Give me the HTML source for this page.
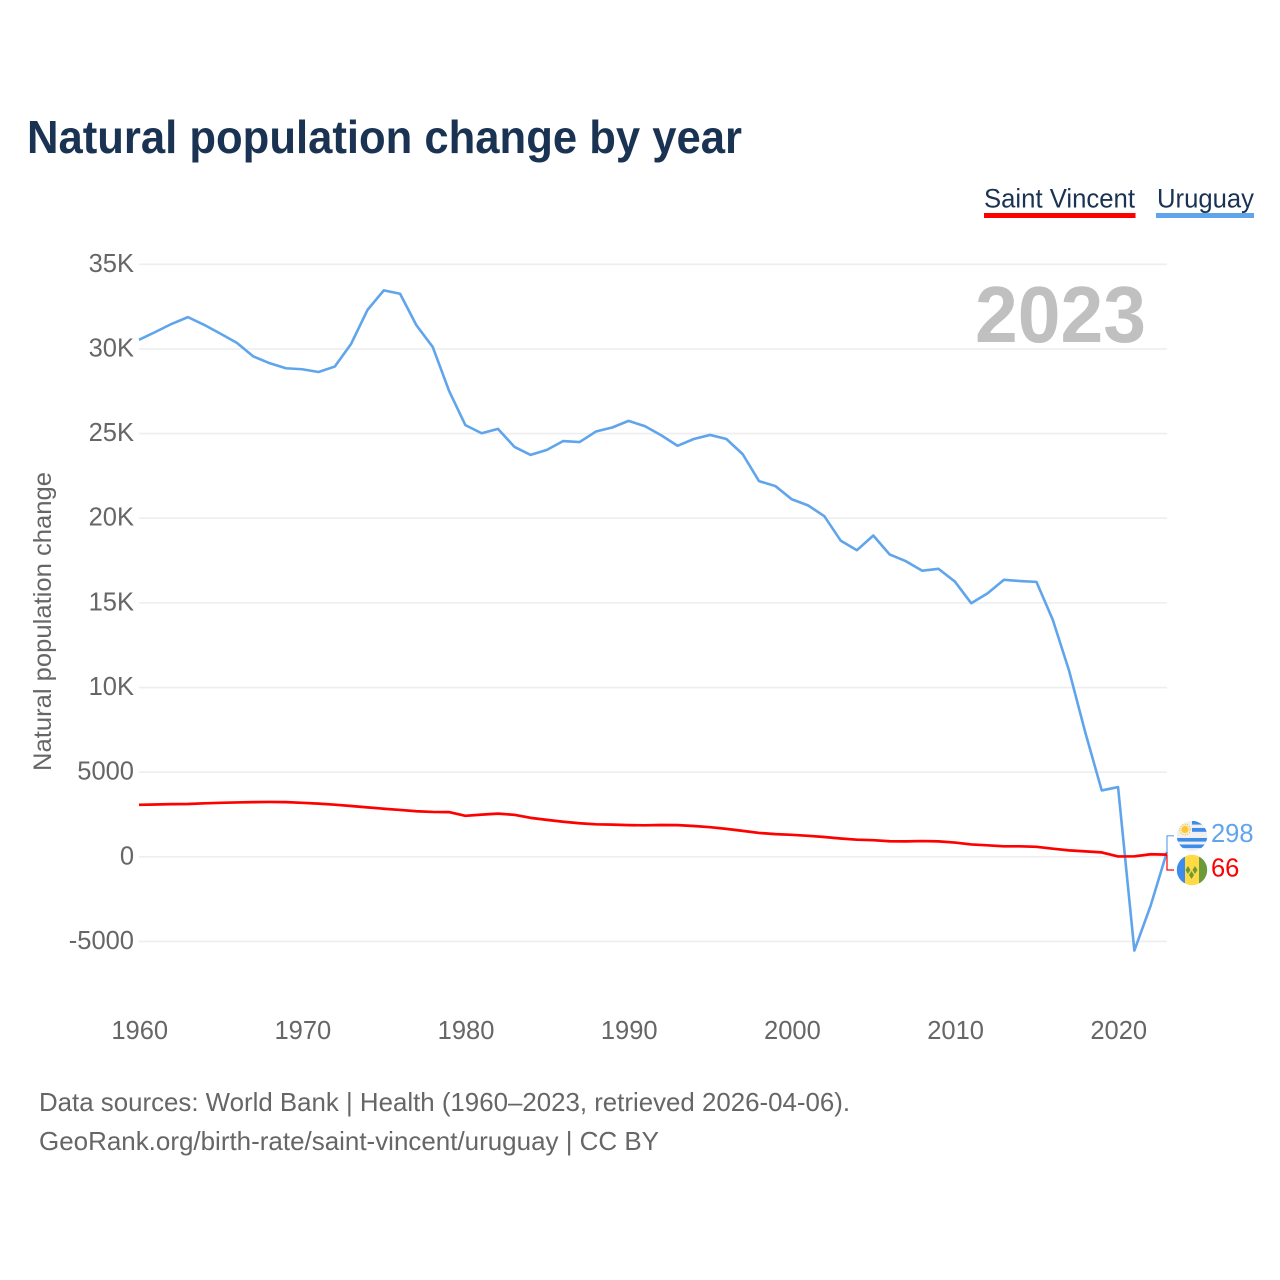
<!DOCTYPE html>
<html lang="en">
<head>
<meta charset="utf-8">
<title>Natural population change by year</title>
<style>
html,body{margin:0;padding:0;background:#fff;width:1280px;height:1280px;overflow:hidden}
svg{display:block}
text{font-family:"Liberation Sans",sans-serif}
</style>
</head>
<body>
<svg id="chart" width="1280" height="1280" viewBox="0 0 1280 1280" xmlns="http://www.w3.org/2000/svg">
  <defs>
    <clipPath id="clip-uy"><circle cx="1192" cy="836" r="15.2"/></clipPath>
    <clipPath id="clip-vc"><circle cx="1192" cy="870" r="15.2"/></clipPath>
  </defs>
  <rect x="0" y="0" width="1280" height="1280" fill="#fff"/>
  <text x="27" y="153" font-size="46" font-weight="700" fill="#1a3353" textLength="715" lengthAdjust="spacingAndGlyphs">Natural population change by year</text>

  <g>
    <g>
      <text x="984" y="207.5" font-size="27" fill="#1a3353" textLength="151" lengthAdjust="spacingAndGlyphs">Saint Vincent</text>
      <rect x="984" y="213" width="151.5" height="5" fill="#ff0000"/>
    </g>
    <g>
      <text x="1157" y="207.5" font-size="27" fill="#1a3353" textLength="97" lengthAdjust="spacingAndGlyphs">Uruguay</text>
      <rect x="1156" y="213" width="98" height="5" fill="#60a5ec"/>
    </g>
  </g>

  <g id="grid"></g>
  <g id="y-ticks"></g>
  <g id="x-ticks"></g>
  <text transform="translate(51 771) rotate(-90)" x="0" y="0" font-size="25" fill="#666" textLength="299" lengthAdjust="spacingAndGlyphs">Natural population change</text>
  <text x="975" y="342" font-size="80" font-weight="700" fill="#c0c0c0" textLength="171" lengthAdjust="spacingAndGlyphs">2023</text>
  <g id="series"></g>

  <g clip-path="url(#clip-uy)">
    <rect x="1176" y="820" width="32" height="32" fill="#f0f0f0"/>
    <rect x="1192" y="821" width="16" height="3.6" fill="#3d8bea"/>
    <rect x="1192" y="828" width="16" height="3.8" fill="#3d8bea"/>
    <rect x="1176" y="838" width="32" height="3.6" fill="#3d8bea"/>
    <rect x="1176" y="844.500" width="32" height="3.6" fill="#3d8bea"/>
    <circle cx="1185" cy="829.5" r="3.6" fill="#ffc52e"/>
    <circle cx="1185" cy="829.5" r="5.2" fill="none" stroke="#ffc52e" stroke-width="1.2" stroke-dasharray="1.2 1.2"/>
  </g>
  <g clip-path="url(#clip-vc)">
    <rect x="1176" y="854" width="9" height="32" fill="#3d8bea"/>
    <rect x="1185" y="854" width="14" height="32" fill="#ffda44"/>
    <rect x="1199" y="854" width="9" height="32" fill="#6a9a3a"/>
    <polygon points="1188,866 1190.5,870 1188,874 1185.5,870" fill="#6a9a3a"/>
    <polygon points="1195,866 1197.500,870 1195,874 1192.500,870" fill="#6a9a3a"/>
    <polygon points="1191.500,871 1194,875 1191.500,879 1189,875" fill="#6a9a3a"/>
  </g>
  <g id="end-labels"></g>
</svg>
<script>
var firstYear = 1960;
var lastYear = 2023;
var yearTicks = [1960, 1970, 1980, 1990, 2000, 2010, 2020];
var valueTicks = [-5000, 0, 5000, 10000, 15000, 20000, 25000, 30000, 35000];
var valueTickLabels = ['-5000', '0', '5000', '10K', '15K', '20K', '25K', '30K', '35K'];
var uruguayValues = [30540, 31000, 31480, 31880, 31420, 30900, 30360, 29560, 29160, 28860, 28800, 28640, 28960, 30300, 32300, 33460, 33260, 31400, 30120, 27530, 25500, 25020, 25280, 24220, 23740, 24040, 24560, 24500, 25120, 25360, 25750, 25440, 24900, 24280, 24680, 24920, 24680, 23780, 22190, 21900, 21120, 20760, 20120, 18680, 18110, 18980, 17860, 17460, 16900, 17010, 16260, 14980, 15560, 16360, 16290, 16240, 14000, 10990, 7320, 3920, 4120, -5540, -2880, 298];
var saintVincentValues = [3070, 3090, 3110, 3120, 3160, 3190, 3210, 3230, 3240, 3230, 3190, 3140, 3080, 3000, 2920, 2840, 2770, 2690, 2650, 2640, 2420, 2490, 2550, 2480, 2300, 2180, 2070, 1980, 1920, 1900, 1870, 1860, 1880, 1870, 1820, 1750, 1650, 1530, 1410, 1340, 1300, 1240, 1170, 1080, 1010, 980, 920, 910, 930, 910, 840, 730, 680, 620, 620, 590, 480, 380, 320, 260, 20, 30, 150, 130];
var endLabelValues = ['298', '66'];

var NS = 'http://www.w3.org/2000/svg';
function xScale(year) { return 139 + (year - firstYear) * (1167 - 139) / (lastYear - firstYear); }
function yScale(value) { return 856.8 - value * (856.8 - 264.3) / 35000; }
function make(tag, attrs, parent, content) {
  var el = document.createElementNS(NS, tag);
  for (var k in attrs) { el.setAttribute(k, attrs[k]); }
  if (content !== undefined) { el.textContent = content; }
  parent.appendChild(el);
  return el;
}
function linePath(values) {
  return values.map(function (v, i) {
    return (i ? 'L' : 'M') + xScale(firstYear + i).toFixed(2) + ' ' + yScale(v).toFixed(2);
  }).join(' ');
}

var grid = document.getElementById('grid');
var yTicks = document.getElementById('y-ticks');
valueTicks.forEach(function (v, i) {
  var line = make('line', { x1: 139, x2: 1167, y1: yScale(v), y2: yScale(v), stroke: '#eeeeee', 'stroke-width': 1.6 }, grid);
  
  
  var label = make('text', { x: 134, y: yScale(v) + 7.5, 'text-anchor': 'end', 'font-size': 25.5, fill: '#666' }, yTicks, valueTickLabels[i]);
  
  
});

var xTicks = document.getElementById('x-ticks');
yearTicks.forEach(function (year) {
  var label = make('text', { x: xScale(year) + 0.7, y: 1039, 'text-anchor': 'middle', 'font-size': 25.5, fill: '#666' }, xTicks, String(year));
  
  
});

var series = document.getElementById('series');
var uruguayLine = make('path', { d: linePath(uruguayValues), fill: 'none', stroke: '#60a5ec', 'stroke-width': 2.6, 'stroke-linejoin': 'round' }, series);


var vincentLine = make('path', { d: linePath(saintVincentValues), fill: 'none', stroke: '#ff0000', 'stroke-width': 2.7, 'stroke-linejoin': 'round' }, series);



var endLabels = document.getElementById('end-labels');
var endX = xScale(lastYear);
var uruguayEnd = uruguayValues[uruguayValues.length - 1];
var vincentEnd = saintVincentValues[saintVincentValues.length - 1];
var uruguayLeader = make('path', { d: 'M' + endX + ' ' + yScale(uruguayEnd) + ' V835.800 H1174', fill: 'none', stroke: '#60a5ec', 'stroke-width': 1.2 }, endLabels);


var vincentLeader = make('path', { d: 'M' + endX + ' ' + yScale(vincentEnd) + ' V870 H1174', fill: 'none', stroke: '#ff0000', 'stroke-width': 1.2 }, endLabels);


var uruguayLabel = make('text', { x: 1211, y: 842, 'font-size': 25.5, fill: '#60a5ec' }, endLabels, endLabelValues[0]);


var vincentLabel = make('text', { x: 1211, y: 876.5, 'font-size': 25.5, fill: '#ff0000' }, endLabels, endLabelValues[1]);


</script>
<svg width="1280" height="1280" viewBox="0 0 1280 1280" xmlns="http://www.w3.org/2000/svg" style="position:absolute;left:0;top:0;pointer-events:none">
  <text x="39" y="1111" font-size="26" fill="#666" textLength="811" lengthAdjust="spacingAndGlyphs">Data sources: World Bank | Health (1960–2023, retrieved 2026-04-06).</text>
  <text x="39" y="1150" font-size="26" fill="#666" textLength="620" lengthAdjust="spacingAndGlyphs">GeoRank.org/birth-rate/saint-vincent/uruguay | CC BY</text>
</svg>
</body>
</html>
